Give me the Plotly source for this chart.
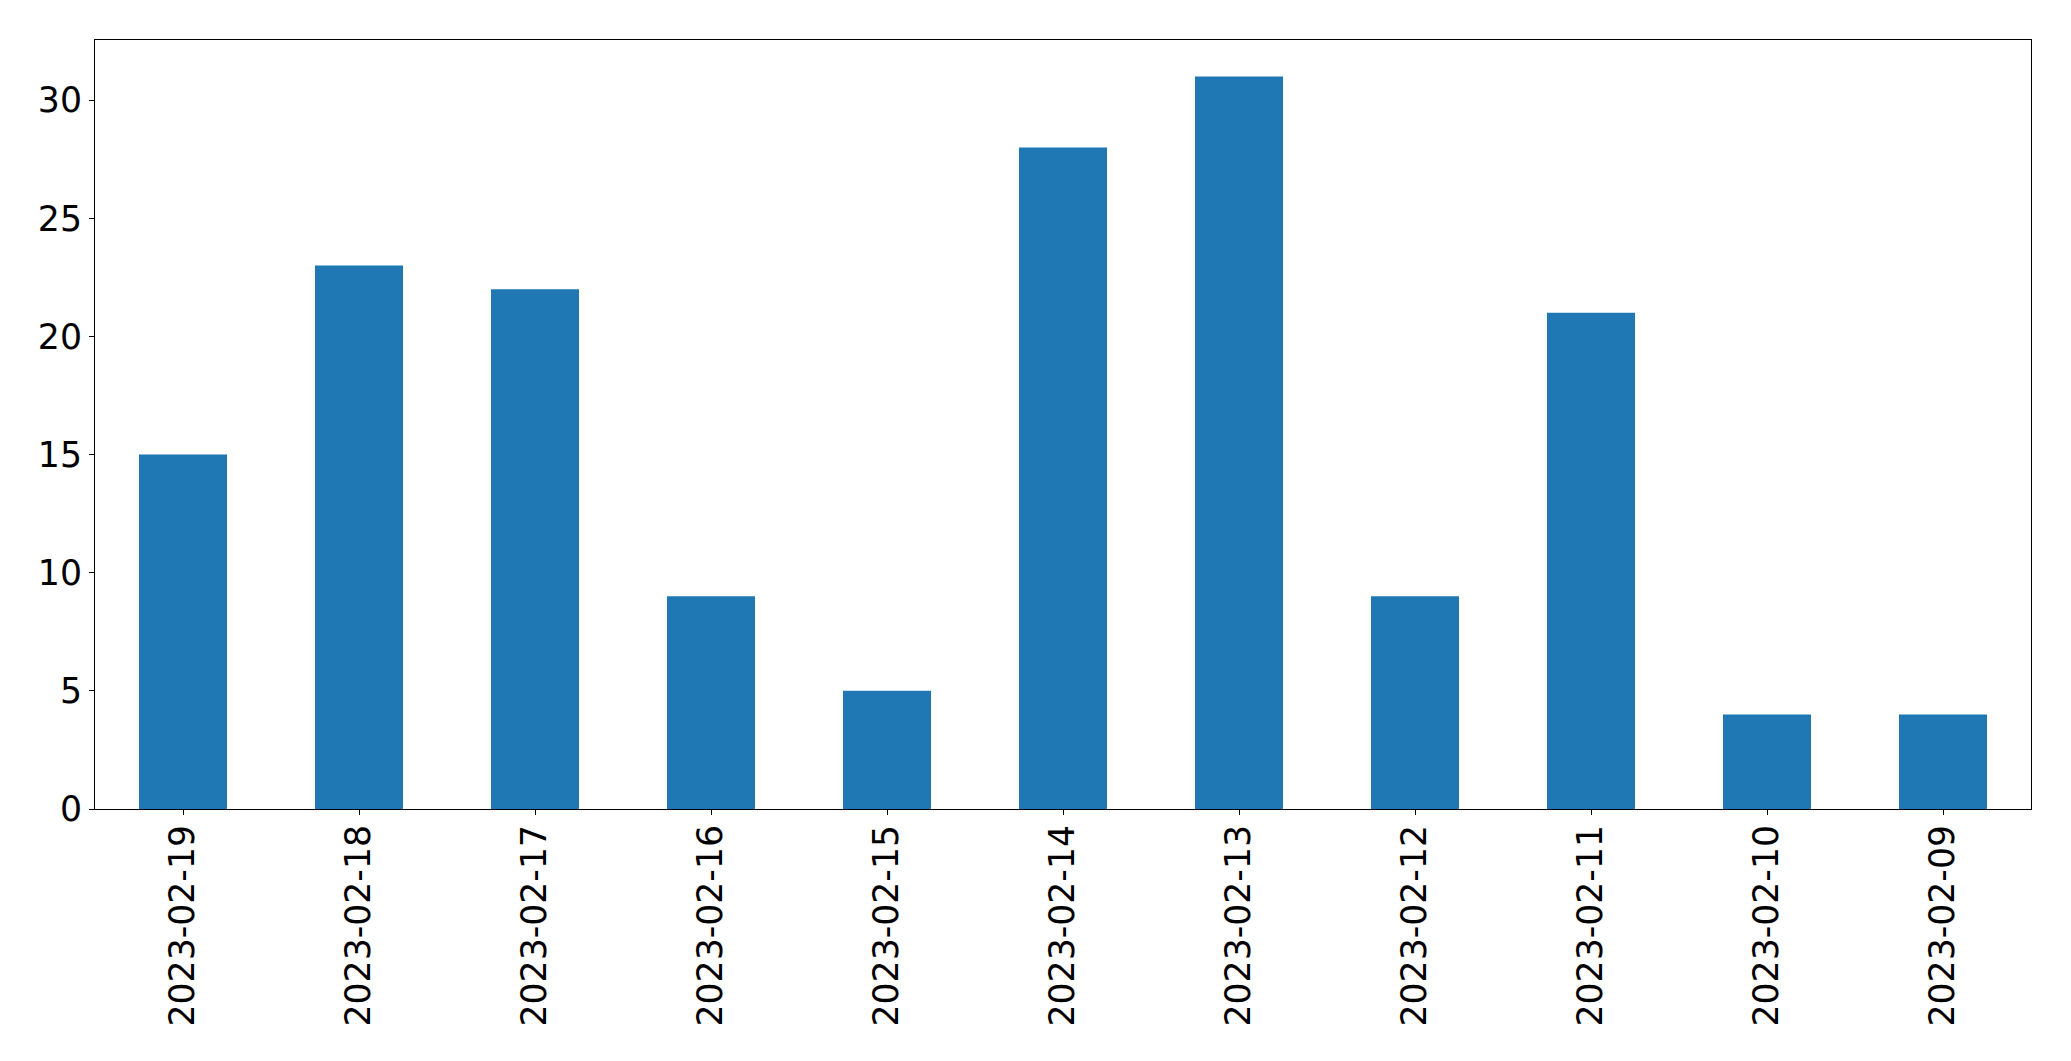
import plotly.graph_objects as go

dates = ["2023-02-19", "2023-02-18", "2023-02-17", "2023-02-16", "2023-02-15",
         "2023-02-14", "2023-02-13", "2023-02-12", "2023-02-11", "2023-02-10", "2023-02-09"]
counts = [15, 23, 22, 9, 5, 28, 31, 9, 21, 4, 4]
y_ticks = [0, 5, 10, 15, 20, 25, 30]

fig = go.Figure(go.Bar(x=dates, y=counts, marker=dict(color="#1f77b4", line=dict(width=0))))

fig.update_layout(
    width=2071, height=1061,
    margin=dict(l=94.5, r=39.5, t=39.5, b=252),
    paper_bgcolor="white", plot_bgcolor="white",
    bargap=0.5,
    font=dict(family="DejaVu Sans", size=34.7, color="black"),
    showlegend=False,
)
fig.update_xaxes(
    type="category", tickangle=-90, range=[-0.5, len(dates) - 0.5],
    showline=True, mirror=True, linecolor="black", linewidth=1.2,
    ticks="outside", ticklen=5, tickwidth=1.2, tickcolor="black",
    showgrid=False, zeroline=False, automargin=False, ticklabelstandoff=-4,
)
fig.update_yaxes(
    range=[0, max(counts) * 1.05], tickvals=y_ticks,
    showline=True, mirror=True, linecolor="black", linewidth=1.2,
    ticks="outside", ticklen=5, tickwidth=1.2, tickcolor="black",
    showgrid=False, zeroline=False, automargin=False,
)

fig.write_html("out.html", config={"displayModeBar": False},
               post_script="document.body.style.margin='0';document.body.style.overflow='hidden';")
